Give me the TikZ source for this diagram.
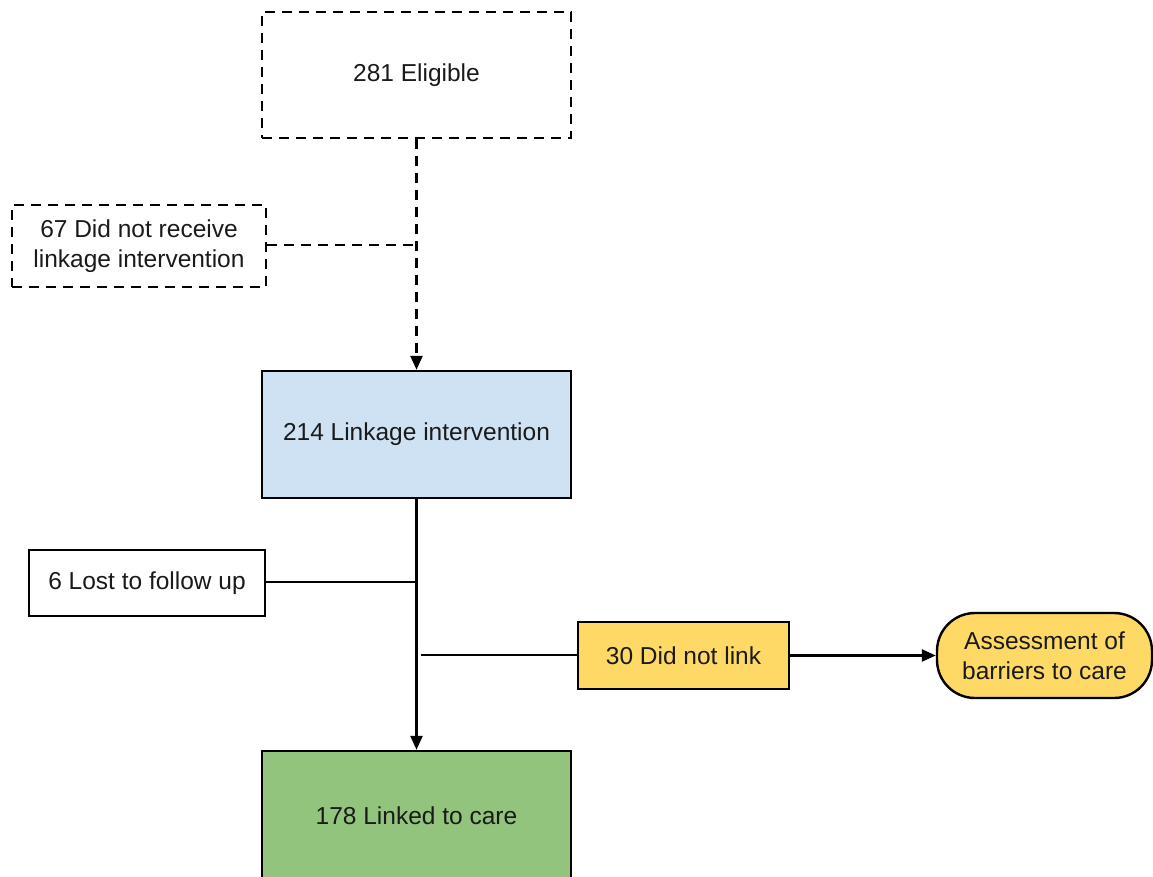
\documentclass[tikz,border=0pt]{standalone}
\usepackage{fontspec}
\setmainfont{Liberation Sans}
\usetikzlibrary{arrows.meta}
\definecolor{lblue}{HTML}{CFE2F3}
\definecolor{lyellow}{HTML}{FFD966}
\definecolor{lgreen}{HTML}{93C47D}
\definecolor{txt}{HTML}{1A1A1A}
\begin{document}
\begin{tikzpicture}[x=1pt,y=-1pt,
  box/.style={draw=black,line width=2.4pt,inner sep=0pt,align=center,text=txt,font=\fontsize{24.5}{30}\selectfont},
  dbox/.style={box,dash pattern=on 10pt off 7pt},
  conn/.style={draw=black,line width=2.4pt},
  dconn/.style={conn,dash pattern=on 10pt off 7pt},
  tip/.style={-{Triangle[length=14pt,width=12pt]}}]
\useasboundingbox (0,0) rectangle (1153,877);
\node[dbox,minimum width=309pt,minimum height=126pt] (elig) at (416.5,75) {281 Eligible};
\node[dbox,minimum width=254pt,minimum height=82pt] (dnr) at (139,246) {67 Did not receive\\linkage intervention};
\node[box,fill=lblue,minimum width=309pt,minimum height=127pt] (link) at (416.5,434.5) {214 Linkage intervention};
\node[box,minimum width=236pt,minimum height=66pt] (lost) at (147,583) {6 Lost to follow up};
\node[box,fill=lyellow,minimum width=211pt,minimum height=67pt] (dnl) at (683.5,655.5) {30 Did not link};
\node[box,fill=lyellow,rounded corners=38pt,minimum width=215pt,minimum height=85pt] (assess) at (1044.5,655.5) {Assessment of\\barriers to care};
\node[box,fill=lgreen,minimum width=309pt,minimum height=130pt] (linked) at (416.5,816) {178 Linked to care};
\coordinate (j1) at (416.5,245);
\coordinate (j2) at (416.5,582);
\coordinate (j3) at (421,655);
\draw[dconn,tip] (elig.south) -- (link.north);
\draw[dconn] (dnr.east |- j1) -- (j1);
\draw[conn,tip] (link.south) -- (linked.north);
\draw[conn] (lost.east |- j2) -- (j2);
\draw[conn] (j3) -- (dnl.west |- j3);
\draw[conn,tip] (dnl.east) -- (assess.west);
\end{tikzpicture}
\end{document}
